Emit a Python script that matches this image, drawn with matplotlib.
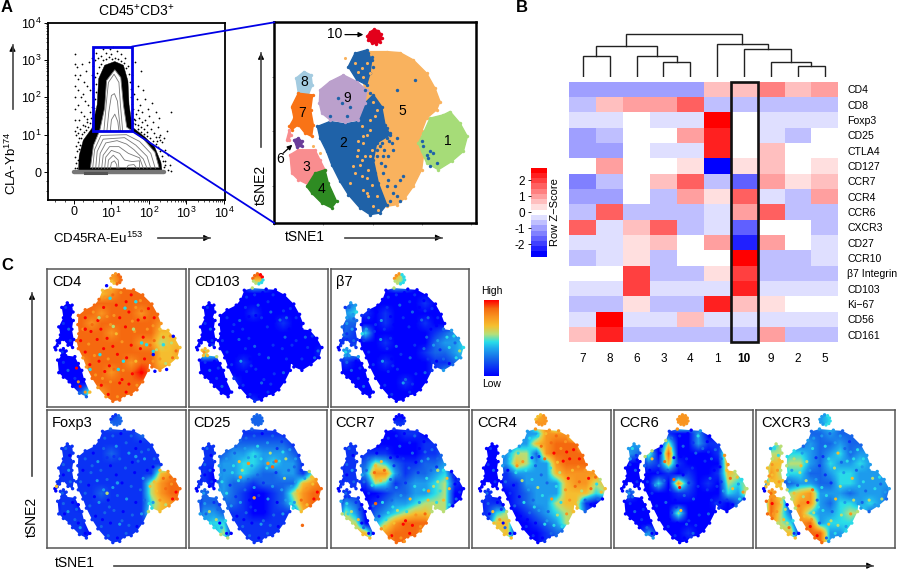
from __future__ import annotations

import matplotlib

matplotlib.use("Agg")
import matplotlib.pyplot as plt
import numpy as np
from matplotlib.colors import BoundaryNorm, LinearSegmentedColormap, ListedColormap
from matplotlib.patches import ConnectionPatch, Rectangle
from matplotlib.path import Path

plt.rcParams["font.family"] = ["Liberation Sans", "DejaVu Sans"]
plt.rcParams["mathtext.default"] = "regular"

W, H = 900, 570

# --- panel A, flow plot (biexponential decades, 0 = zero)
BLACK_X = [0.12, 0.14, 0.25, 0.48, 0.62, 0.66, 0.82, 1.09, 1.32, 1.44, 1.47, 1.56, 1.9, 2.15, 2.32, 2.36]
BLACK_Y = [-0.02, 0.44, 0.85, 1.17, 1.8, 2.5, 2.86, 2.96, 2.86, 2.44, 1.8, 1.2, 0.93, 0.68, 0.26, -0.04]
WHITE_X = [0.44, 0.52, 0.69, 0.82, 0.87, 1.09, 1.25, 1.32, 1.41, 1.85, 2.16, 2.27]
WHITE_Y = [0.12, 0.71, 1.12, 1.72, 2.45, 2.74, 2.53, 1.8, 1.2, 0.89, 0.53, 0.12]
CONTOURS = [
    [(0.8, 1.1), (0.86, 1.8), (0.92, 2.4), (1.07, 2.62), (1.2, 2.4), (1.24, 1.8), (1.3, 1.1)],
    [(0.88, 1.1), (0.93, 1.6), (1.0, 2.05), (1.08, 2.1), (1.16, 1.9), (1.2, 1.5), (1.24, 1.1)],
    [(0.97, 1.1), (1.0, 1.4), (1.09, 1.55), (1.17, 1.35), (1.2, 1.1)],
    [(0.5, 0.1), (0.55, 0.6), (0.72, 0.98), (1.4, 1.0), (1.75, 0.82), (2.05, 0.5), (2.17, 0.1)],
    [(0.58, 0.1), (0.62, 0.55), (0.78, 0.88), (1.35, 0.92), (1.65, 0.72), (1.95, 0.42), (2.05, 0.1)],
    [(0.66, 0.1), (0.7, 0.5), (0.85, 0.78), (1.15, 0.84), (1.4, 0.75), (1.6, 0.6), (1.85, 0.35), (1.95, 0.1)],
    [(0.74, 0.1), (0.78, 0.45), (0.95, 0.68), (1.2, 0.68), (1.45, 0.5), (1.75, 0.38), (1.85, 0.1)],
    [(0.82, 0.1), (0.85, 0.4), (1.0, 0.58), (1.22, 0.5), (1.35, 0.32), (1.55, 0.28), (1.75, 0.3), (1.75, 0.1)],
    [(0.9, 0.1), (0.92, 0.32), (1.05, 0.45), (1.18, 0.32), (1.2, 0.1)],
    [(0.97, 0.1), (1.0, 0.25), (1.08, 0.3), (1.14, 0.2), (1.15, 0.1)],
    [(1.4, 0.1), (1.45, 0.18), (1.6, 0.2), (1.68, 0.1)],
]
SPARSE_DOTS = [
    (0.02, 3.15), (0.03, 2.9), (0.02, 2.6), (0.03, 2.3), (0.02, 2.0), (0.03, 1.7), (0.02, 1.4), (0.03, 1.1),
    (0.08, 2.8), (0.12, 2.5), (0.1, 2.2), (0.17, 2.6), (0.22, 2.9), (0.27, 2.4), (0.18, 2.0), (0.11, 1.8),
    (0.25, 2.1), (0.33, 2.7), (0.36, 2.3), (0.3, 1.9), (0.2, 1.6), (0.13, 1.4), (0.28, 1.5), (0.38, 1.8),
    (0.42, 2.2), (0.47, 2.6), (0.44, 1.6), (0.5, 2.0), (0.52, 2.85), (0.48, 3.05), (0.4, 2.95), (0.34, 1.35),
    (0.08, 1.2), (0.16, 1.15), (0.24, 1.25), (0.55, 3.0), (0.65, 3.05), (0.72, 3.12), (0.85, 3.2), (0.95, 3.3),
    (1.05, 3.35), (1.15, 3.25), (1.25, 3.15), (1.35, 3.05), (1.45, 2.85), (0.78, 3.3), (1.0, 3.15), (0.6, 3.2),
    (1.56, 2.6), (1.62, 2.95), (1.7, 2.3), (1.78, 2.7), (1.85, 2.2), (1.6, 2.1), (1.68, 1.95), (1.76, 1.8),
    (1.9, 1.95), (1.98, 1.7), (2.08, 1.85), (2.2, 1.6), (2.28, 1.45), (1.58, 1.7), (1.66, 1.55), (1.74, 1.45),
    (1.82, 1.6), (1.9, 1.4), (2.0, 1.5), (2.12, 1.35), (2.24, 1.2), (1.72, 1.25), (1.8, 1.2), (1.88, 1.15),
    (1.96, 1.25), (2.05, 1.15), (2.14, 1.05), (2.3, 1.0), (2.36, 0.8), (2.44, 0.6), (2.5, 0.45), (2.55, 0.2),
    (2.42, 0.3), (2.3, 0.85), (2.48, 1.1), (2.6, 1.6), (1.58, 1.3), (1.62, 1.4), (1.7, 1.65), (1.82, 1.35),
    (2.5, 0.05), (2.58, 0.02), (0.06, 0.98), (0.1, 1.05), (1.95, 1.08), (2.18, 0.95), (2.26, 0.95), (2.4, 0.9),
    (0.03, 0.1), (0.06, 0.25), (0.04, 0.4), (0.09, 0.55), (0.05, 0.7), (0.11, 0.8), (0.08, 0.12), (0.1, 0.33),
    (0.13, 0.62), (0.16, 0.72), (0.19, 0.92), (0.14, 0.9), (0.22, 1.02), (0.28, 1.08), (0.33, 1.12), (0.38, 1.2),
    (0.42, 1.32), (0.46, 1.45), (0.5, 1.55), (0.53, 1.72), (0.56, 1.95), (0.58, 2.15), (0.6, 2.35), (0.52, 2.25),
    (0.56, 2.55), (0.62, 2.65), (0.66, 2.8), (0.72, 2.9), (0.78, 3.0), (0.86, 3.02), (0.94, 3.08), (1.02, 3.02),
    (1.1, 3.06), (1.18, 3.02), (1.26, 2.98), (1.34, 2.92), (1.4, 2.78), (1.46, 2.62), (1.5, 2.42), (1.52, 2.22),
    (1.53, 2.0), (1.55, 1.82), (1.54, 1.58), (1.6, 1.42), (1.64, 1.28), (1.7, 1.14), (1.78, 1.06), (1.86, 1.02),
    (1.94, 0.96), (2.02, 0.9), (2.1, 0.82), (2.18, 0.76), (2.24, 0.66), (2.3, 0.55), (2.34, 0.42), (2.38, 0.3),
    (2.4, 0.14), (2.44, 0.2), (2.22, 0.82), (1.58, 1.12), (1.66, 1.08), (0.3, 1.22), (0.36, 1.42), (0.48, 1.75),
]
GATE_X = [0.515, 1.547]
GATE_Y = [1.096, 3.36]
DECADE_TICKS = [0, 1, 2, 3, 4]
DECADE_LABELS = ["0", "$10^{1}$", "$10^{2}$", "$10^{3}$", "$10^{4}$"]

# --- panel A, tSNE map (arbitrary tSNE units)
CLUSTER_COLORS = {
    "5": "#f9b25e", "2": "#1f62a8", "9": "#bba0cc", "1": "#a6dc78", "8": "#a3cbe0",
    "7": "#f97316", "3": "#f98d8f", "4": "#2e8b22", "6": "#6a3d9a", "10": "#e3001b",
}
CLUSTER_5 = [(395, 170), (415, 125), (470, 125), (510, 128), (550, 150), (590, 190), (615, 235), (630, 275),
             (620, 300), (590, 325), (575, 365), (570, 400), (580, 440), (575, 480), (550, 530), (525, 565),
             (500, 585), (470, 590), (440, 520), (410, 420), (400, 300), (405, 250)]
CLUSTER_2 = [(262, 350), (300, 335), (345, 342), (385, 335), (405, 280), (430, 255), (455, 290), (465, 345),
             (480, 375), (440, 400), (430, 450), (445, 520), (470, 585), (450, 610), (420, 615), (390, 595),
             (355, 555), (330, 515), (305, 465), (290, 425), (270, 385)]
CLUSTER_2_TOP = [(375, 130), (410, 120), (425, 150), (420, 190), (410, 225), (380, 210), (355, 170)]
CLUSTER_9 = [(270, 240), (300, 215), (340, 195), (380, 215), (410, 240), (405, 280), (385, 330), (345, 338),
             (300, 330), (275, 310), (268, 280)]
CLUSTER_1 = [(600, 325), (640, 315), (660, 305), (690, 340), (712, 380), (700, 425), (665, 455), (625, 480),
             (590, 460), (575, 425), (565, 400), (580, 370)]
CLUSTER_8 = [(198, 205), (222, 185), (243, 195), (247, 225), (235, 255), (205, 250)]
CLUSTER_7 = [(205, 250), (248, 255), (242, 300), (250, 345), (245, 380), (225, 370), (205, 345), (185, 360),
             (178, 350), (192, 325), (185, 290)]
CLUSTER_TAIL = [(170, 390), (178, 360), (183, 375), (176, 392)]
CLUSTER_6 = [(192, 390), (205, 385), (217, 395), (215, 410), (200, 412)]
CLUSTER_3 = [(180, 435), (205, 420), (255, 420), (270, 450), (285, 480), (260, 495), (235, 525), (205, 510),
             (185, 490)]
CLUSTER_4 = [(255, 490), (285, 480), (295, 520), (320, 575), (305, 595), (275, 580), (245, 550), (230, 530)]
CLUSTER_10 = [(412, 78), (420, 66), (432, 58), (445, 62), (453, 72), (456, 85), (450, 96), (438, 102), (425, 99),
              (415, 90)]
BLUE_SPECKS = [(555, 210), (500, 240), (480, 370), (470, 385), (490, 420), (460, 440), (510, 510), (520, 500),
               (500, 560), (430, 350), (445, 330), (420, 400), (430, 380), (410, 430), (395, 420), (440, 420),
               (455, 400), (470, 355), (415, 300), (405, 330), (600, 425), (590, 435), (610, 430), (595, 445),
               (325, 265), (335, 280), (350, 320), (360, 290), (425, 470), (435, 490), (465, 470), (475, 510),
               (450, 410), (462, 420), (442, 440), (452, 460), (478, 395), (485, 400), (500, 385), (475, 440),
               (458, 490), (470, 530), (490, 550), (510, 575), (480, 575), (495, 530), (415, 130), (425, 140),
               (430, 170), (405, 240), (420, 250), (620, 460), (600, 470), (580, 410), (575, 395), (300, 320)]
ORANGE_SPECKS = [(390, 465), (370, 470), (395, 500), (410, 550), (440, 560), (380, 440), (400, 400), (385, 420),
                 (415, 480), (360, 520), (425, 525), (445, 600), (400, 380), (395, 350), (420, 330), (440, 300),
                 (450, 270), (420, 190), (395, 175), (375, 160), (345, 145), (405, 440), (375, 490), (410, 505),
                 (395, 450), (420, 440), (385, 395), (410, 375), (425, 420), (420, 360), (435, 320), (430, 275),
                 (415, 560), (430, 590), (400, 540), (410, 160), (400, 200), (385, 185), (270, 430), (250, 410)]
CLUSTER_LABELS = [("1", 652, 393), ("2", 340, 401), ("3", 228, 473), ("4", 274, 538), ("5", 518, 302),
                  ("7", 215, 310), ("8", 222, 217), ("9", 352, 264)]

# --- panel B, heatmap (colour levels -8..8, one level = 0.327 z)
HEAT_COLUMNS = ["7", "8", "6", "3", "4", "1", "10", "9", "2", "5"]
HEAT_ROWS = ["CD4", "CD8", "Foxp3", "CD25", "CTLA4", "CD127", "CCR7", "CCR4", "CCR6", "CXCR3", "CD27", "CCR10",
             "β7 Integrin", "CD103", "Ki−67", "CD56", "CD161"]
HEAT_LEVELS = [
    [-3, -3, -3, -3, -3, 2, 2, 4, 2, 3],
    [-2, 2, 3, 3, 5, -2, -2, -2, -2, -2],
    [-1, -1, 0, -1, -1, 8, 0, -1, -1, -1],
    [-3, -2, 0, 0, 3, 7, 0, -1, -2, 0],
    [-3, -3, 0, -1, -1, 7, 0, 2, 0, 0],
    [0, 3, 0, 0, 1, -8, 1, 2, 0, 1],
    [-4, -2, 0, 2, 5, -2, -5, 3, 1, 2],
    [-3, -3, 0, -2, 3, 1, 5, -1, -2, 3],
    [-2, 5, -2, -2, -2, -1, 3, 5, -2, -2],
    [5, -1, 2, 5, -2, -1, -5, 0, 0, -2],
    [-1, -1, 1, 2, 0, 3, -7, 3, 0, -1],
    [-2, -1, 1, -2, 0, 0, 8, -2, -2, -1],
    [0, 0, 6, -2, -2, 1, 6, -2, -2, -2],
    [-1, -1, 6, -1, -1, -1, 7, -1, -1, -1],
    [-2, -2, 1, -2, -2, 7, 2, 1, 0, 0],
    [-1, 8, -1, -1, 2, -1, -1, -1, -1, -1],
    [2, 7, -2, -2, -2, -2, -2, 3, -2, -2],
]
Z_STEP = 0.327
Z_TICKS = [2, 1, 0, -1, -2]
Z_LABELS = ["2", "1", "0", "-1", "-2"]
# (child, child, height); leaves are heatmap columns 0..9, new nodes count up from 10
DENDRO_MERGES = [(0, 1, 64), (3, 4, 46), (2, 11, 64), (10, 12, 94), (8, 9, 34), (7, 14, 46), (6, 15, 85),
                 (5, 16, 99), (13, 17, 131)]

# --- panel C, expression maps: digits 0 (low) .. 9 (high), 14x14 cells over the map
OUTLINE_MAIN = [(375, 130), (410, 120), (470, 125), (510, 128), (550, 150), (590, 190), (615, 235), (630, 275),
                (625, 300), (660, 305), (690, 340), (712, 380), (700, 425), (665, 455), (625, 480), (590, 465),
                (578, 445), (575, 480), (550, 530), (525, 565), (500, 585), (470, 590), (450, 610), (420, 615),
                (390, 595), (355, 555), (330, 515), (305, 465), (290, 425), (270, 385), (262, 350), (272, 320),
                (268, 280), (270, 240), (300, 215), (340, 195), (360, 170)]
OUTLINE_LEFT_UP = [(198, 205), (222, 185), (243, 195), (247, 225), (236, 255), (248, 262), (242, 300), (250, 345),
                   (245, 380), (225, 370), (205, 345), (188, 360), (178, 372), (172, 390), (168, 380), (178, 350),
                   (192, 325), (185, 290), (205, 250)]
OUTLINE_LEFT_LOW = [(192, 392), (205, 385), (217, 395), (215, 415), (255, 420), (270, 450), (285, 480), (295, 520),
                    (320, 575), (305, 595), (275, 580), (245, 550), (230, 530), (205, 510), (185, 490), (180, 435),
                    (198, 415)]
# cell-level grain: (x, y, digit offset from the local value)
GRAIN = [
    (300, 250, 1), (335, 225, -1), (380, 205, 1), (420, 150, 1), (455, 140, -1), (500, 150, 1), (540, 175, -1),
    (575, 210, 1), (600, 250, 1), (355, 262, 2), (395, 245, -1), (435, 195, 2), (478, 180, 1), (520, 205, -1),
    (558, 250, 2), (595, 285, -1), (290, 300, -1), (325, 310, 1), (368, 300, 1), (410, 280, -1), (450, 250, 1),
    (490, 225, 2), (530, 260, 1), (570, 300, -1), (280, 350, 1), (315, 365, -1), (352, 345, 2), (395, 340, 1),
    (435, 320, -1), (475, 290, 1), (515, 310, -1), (552, 335, 2), (300, 400, 1), (340, 415, -1), (380, 385, 1),
    (420, 375, 2), (460, 355, -1), (500, 370, 1), (540, 385, 1), (320, 455, 1), (360, 440, 2), (400, 430, -1),
    (440, 410, 1), (480, 425, 2), (520, 440, -1), (558, 430, 1), (345, 500, -1), (385, 485, 1), (425, 475, 1),
    (465, 480, -1), (505, 495, 1), (545, 490, 2), (370, 545, 1), (410, 530, -1), (450, 535, 2), (490, 540, 1),
    (525, 545, -1), (400, 585, 1), (440, 595, -1), (478, 575, 1), (600, 350, 1), (640, 335, 2), (675, 360, -1),
    (695, 395, 1), (610, 390, -1), (650, 380, 1), (680, 425, 2), (625, 430, 1), (595, 440, -1), (650, 450, -1),
    (215, 205, 1), (232, 235, -1), (205, 275, 1), (228, 300, 2), (205, 320, -1), (235, 350, 1), (200, 400, 1),
    (205, 445, 1), (245, 440, -1), (225, 480, 2), (262, 470, 1), (210, 490, -1), (255, 515, 1), (278, 550, 2),
    (300, 575, -1), (270, 530, -1), (330, 280, 1), (545, 220, 1), (405, 460, 1), (375, 515, -1), (505, 265, -1),
    (460, 520, 1), (425, 240, -1), (385, 160, 1), (582, 370, 1), (670, 330, 1),
]

CD4_MAIN = ["88888878888888", "88888868888888", "88888678888888", "88888888888888", "88888788878888",
            "88887888888777", "88888878888667", "78888888877566", "78888888888667", "88878888788666",
            "88888878898777", "78888888888888", "68888788888888", "88888888888888"]
CD4_LEFT = ["00000", "00000", "00000", "00000", "00000", "00000", "00000", "00000", "00000", "00026", "00016"]
CD103_MAIN = ["00000089000000", "00000054000000", "00000000000000", "00000000000000", "00000010000000",
              "00000000010000", "00000000000000", "00000000000000", "00000000000001", "00000100000000",
              "00000000000000", "00001000000000", "00000000000000", "00000010000000"]
CD103_LEFT = ["00000", "00000", "00000", "00000", "00000", "06500", "00000", "00000", "00000", "00000", "00000"]
B7_MAIN = ["00000074000000", "00000054000000", "00000000000000", "01000000010000", "00010100000000",
           "00000100010000", "00040000001230", "00000100002334", "00000000012234", "00100100001123",
           "00000000001322", "00000001000000", "00000000000000", "00001100100000"]
B7_LEFT = ["01300", "03400", "02200", "02100", "01100", "03300", "01000", "00000", "00000", "00000", "00000"]
FOXP3_MAIN = ["11111112111111", "11111122111111", "11111111121111", "11111111111111", "11111121111111",
              "11111111111111", "11111111111677", "11111111115788", "11111211115788", "11111111114678",
              "11111111115667", "11111111111111", "11111111111111", "11111111111111"]
FOXP3_LEFT = ["01100", "01100", "01100", "01100", "01100", "01100", "01100", "01110", "01110", "00110", "00110"]
CD25_MAIN = ["11111122111111", "11111122111111", "11111111111111", "11112222221111", "11123343332111",
             "11233443433111", "11233432233156", "11232212222678", "11232100125788", "11222100124788",
             "11111100111677", "11111111111111", "11111111111111", "11111111111111"]
CD25_LEFT = ["01100", "01100", "01100", "01000", "01000", "02200", "02210", "03320", "03440", "01350", "00230"]
CCR7_MAIN = ["00000000000000", "00000011000000", "00000001100000", "00000000011100", "00011100011200",
             "00125421122300", "00137731223400", "00115412334510", "00000122334500", "00001233455500",
             "00002345665500", "00003578886500", "00005788877500", "00005788866500"]
CCR7_LEFT = ["01100", "01100", "01100", "01100", "01100", "01100", "03200", "05300", "06500", "02760", "00370"]
CCR4_MAIN = ["11111167111111", "11111177111111", "11111337771111", "11123367888111", "11135527888811",
             "11236533788820", "11113333677776", "11011333367756", "11001233366645", "00001233566100",
             "00000123456200", "00000012355700", "00000001224400", "00000001111100"]
CCR4_LEFT = ["00000", "00000", "00000", "00000", "00000", "01000", "01100", "01450", "01660", "01560", "00450"]
CCR6_MAIN = ["00000077000000", "00000077000000", "00000100300000", "00000500311110", "00050800001700",
             "00021610000760", "00000101001650", "00004072010545", "00000011000436", "00000000001021",
             "00000050000000", "00000000000000", "00000001000000", "00000000000000"]
CCR6_LEFT = ["03300", "03200", "00000", "00000", "00000", "02000", "00000", "00000", "00000", "00030", "00020"]
CXCR3_MAIN = ["22222234222222", "22222234222222", "22222223222222", "22222322322222", "22344323423322",
              "22455324334322", "22344223443333", "22223322443333", "22356733323332", "22357732443432",
              "22467433455222", "22267834443222", "22226883343222", "22222883222222"]
CXCR3_LEFT = ["03500", "05500", "06600", "07500", "06600", "07500", "08600", "08520", "07540", "03660", "00540"]

CD4_SPOTS = [(408, 165, 4), (473, 208, 4), (422, 288, 5), (466, 440, 4), (444, 476, 4), (364, 411, 4), (321, 476, 4),
             (567, 368, 4), (596, 397, 4), (640, 368, 4), (596, 411, 0), (683, 331, 0), (545, 360, 4), (654, 476, 0),
             (603, 484, 0), (393, 110, 0), (510, 300, 5), (360, 250, 5), (300, 300, 9), (520, 180, 4)]
CD25_SPOTS = [(395, 270, 7), (480, 270, 7), (360, 330, 7), (420, 420, 7), (500, 285, 8), (515, 260, 8), (630, 540, 8)]
FOXP3_SPOTS = [(440, 355, 3), (520, 240, 3), (395, 400, 5), (175, 370, 6)]
CCR7_SPOTS = [(330, 445, 8), (560, 390, 7), (600, 300, 5), (455, 610, 7), (390, 590, 8)]

PANELS_TOP = [("CD4", CD4_MAIN, CD4_LEFT, CD4_SPOTS), ("CD103", CD103_MAIN, CD103_LEFT, []),
              ("β7", B7_MAIN, B7_LEFT, [])]
PANELS_BOTTOM = [("Foxp3", FOXP3_MAIN, FOXP3_LEFT, FOXP3_SPOTS), ("CD25", CD25_MAIN, CD25_LEFT, CD25_SPOTS),
                 ("CCR7", CCR7_MAIN, CCR7_LEFT, CCR7_SPOTS), ("CCR4", CCR4_MAIN, CCR4_LEFT, []),
                 ("CCR6", CCR6_MAIN, CCR6_LEFT, []), ("CXCR3", CXCR3_MAIN, CXCR3_LEFT, [])]
PANEL_X_TOP = [(47.3, 185.7), (189, 327.7), (330.7, 469.3)]
PANEL_X_BOTTOM = [(47.3, 185.7), (188.7, 327), (330.7, 469.3), (472, 611), (614, 752.7), (756, 895)]

EXPR_CMAP = LinearSegmentedColormap.from_list(
    "expr",
    [(0.0, "#0000ff"), (0.22, "#1565ea"), (0.36, "#1fa8ee"), (0.45, "#2adfe8"), (0.55, "#b5e07a"),
     (0.66, "#f5c030"), (0.78, "#f99520"), (0.89, "#f56a10"), (1.0, "#ff0000")],
)
XLIM = (135, 737)
YLIM = (640, 37)


def px_axes(fig, x0, y0, x1, y1):
    return fig.add_axes([x0 / W, 1 - y1 / H, (x1 - x0) / W, (y1 - y0) / H])


def px(x, y):
    return x / W, 1 - y / H


def fig_arrow(fig, x0, y0, x1, y1, color="#444444", lw=1.2):
    fig.add_artist(plt.Line2D([x0 / W, x1 / W], [1 - y0 / H, 1 - y1 / H], color=color, lw=lw))
    plt.annotate(
        "", xy=px(x1, y1), xytext=px(x1 - (x1 > x0) * 6 + (x1 < x0) * 6, y1 + (y1 < y0) * 6 - (y1 > y0) * 6),
        xycoords="figure fraction", textcoords="figure fraction",
        arrowprops=dict(arrowstyle="-|>", color="black", lw=0.8, mutation_scale=9, shrinkA=0, shrinkB=0),
    )


def poly(ax, pts, color, zorder=2):
    xs, ys = zip(*pts)
    ax.fill(xs, ys, color=color, lw=1.0, zorder=zorder)
    ax.scatter(xs, ys, s=6, color=color, lw=0, zorder=zorder)


def draw_flow(fig):
    ax = px_axes(fig, 47.7, 22.7, 225, 200)
    ax.set_xlim(-0.7, 4.03)
    ax.set_ylim(-0.75, 4.0)
    dx, dy = zip(*SPARSE_DOTS)
    ax.scatter(dx, dy, s=1.6, color="black", lw=0, zorder=1)
    ax.fill(BLACK_X, BLACK_Y, color="black", lw=0.3, zorder=2)
    ax.fill(WHITE_X, WHITE_Y, color="white", ec="#777777", lw=0.6, zorder=3)
    for c in CONTOURS:
        xs, ys = zip(*c)
        ax.plot(xs, ys, color="#777777", lw=0.6, zorder=4)
    ax.plot([0.0, 2.4], [0.0, 0.0], color="#777777", lw=3.2, zorder=5, solid_capstyle="round")
    ax.plot([0.3, 0.85], [-0.02, -0.02], color="#555555", lw=2.2, zorder=5)
    ax.add_patch(Rectangle((GATE_X[0], GATE_Y[0]), GATE_X[1] - GATE_X[0], GATE_Y[1] - GATE_Y[0],
                           fill=False, ec="#0000e6", lw=2.0, zorder=6))
    minors = [-0.5, -0.25, 0.25, 0.5, 0.75] + [d + np.log10(m) for d in range(1, 4) for m in range(2, 10)]
    ax.set_xticks(DECADE_TICKS, DECADE_LABELS, fontsize=9)
    ax.set_yticks(DECADE_TICKS, DECADE_LABELS, fontsize=9)
    ax.set_xticks(minors, minor=True)
    ax.set_yticks(minors, minor=True)
    ax.tick_params(length=3, width=0.7, pad=1.5)
    ax.tick_params(which="minor", length=1.5, width=0.5)
    for s in ax.spines.values():
        s.set_linewidth(1.3)
    return ax


def draw_tsne(fig):
    ax = px_axes(fig, 274.3, 22.3, 475.7, 223)
    ax.set_xlim(133, 737)
    ax.set_ylim(640, 37)
    c = CLUSTER_COLORS
    for pts, col in [(CLUSTER_5, c["5"]), (CLUSTER_2, c["2"]), (CLUSTER_2_TOP, c["2"]), (CLUSTER_9, c["9"]),
                     (CLUSTER_1, c["1"]), (CLUSTER_8, c["8"]), (CLUSTER_7, c["7"]), (CLUSTER_TAIL, c["3"]),
                     (CLUSTER_3, c["3"]), (CLUSTER_4, c["4"]), (CLUSTER_6, c["6"]), (CLUSTER_10, c["10"])]:
        poly(ax, pts, col)
    bx, by = zip(*BLUE_SPECKS)
    ax.scatter(bx, by, s=6, color=c["2"], lw=0, zorder=3)
    ox, oy = zip(*ORANGE_SPECKS)
    ax.scatter(ox, oy, s=5, color=c["5"], lw=0, zorder=3)
    for name, x, y in CLUSTER_LABELS:
        ax.text(x, y, name, fontsize=10, ha="center", va="center", zorder=5)
    ax.text(315, 72, "10", fontsize=10, ha="center", va="center")
    ax.annotate("", xy=(400, 74), xytext=(345, 74),
                arrowprops=dict(arrowstyle="-|>", color="black", lw=0.9, mutation_scale=7, shrinkA=0, shrinkB=0))
    ax.text(150, 447, "6", fontsize=10, ha="center", va="center")
    ax.annotate("", xy=(187, 405), xytext=(160, 430),
                arrowprops=dict(arrowstyle="-|>", color="black", lw=0.9, mutation_scale=7, shrinkA=0, shrinkB=0))
    ax.set_xticks([133, 280, 428, 576, 724], [])
    ax.set_yticks([200, 365, 530], [])
    ax.tick_params(length=1.5, width=0.5, color="#666666")
    for s in ax.spines.values():
        s.set_linewidth(1.8)
    return ax


def draw_heatmap(fig):
    ax = px_axes(fig, 569.3, 81.7, 838.3, 342.3)
    colors = []
    for lev in range(-8, 9):
        v = 1 - abs(lev) / 8
        colors.append((v, v, 1.0) if lev < 0 else (1.0, v, v))
    cmap = ListedColormap(colors)
    norm = BoundaryNorm(np.arange(-8.5, 9.5), cmap.N)
    levels = np.array(HEAT_LEVELS)
    ax.pcolormesh(np.arange(11), np.arange(18), levels, cmap=cmap, norm=norm)
    ax.set_xlim(0, 10)
    ax.set_ylim(17, 0)
    ax.set_xticks(np.arange(10) + 0.5, HEAT_COLUMNS, fontsize=8.5)
    ax.get_xticklabels()[6].set_fontweight("bold")
    ax.yaxis.tick_right()
    ax.set_yticks(np.arange(17) + 0.5, HEAT_ROWS, fontsize=7.6)
    ax.tick_params(length=0, pad=6.5)
    ax.tick_params(axis="x", pad=8)
    for s in ax.spines.values():
        s.set_visible(False)
    ax.add_patch(Rectangle((6, 0), 1, 17, fill=False, ec="#111111", lw=1.9, clip_on=False, zorder=5))

    dax = px_axes(fig, 569.3, 33.3, 838.3, 77.3)
    node_x = {i: i + 0.5 for i in range(10)}
    node_h = {i: 0 for i in range(10)}
    for k, (a, b, h) in enumerate(DENDRO_MERGES):
        dax.plot([node_x[a], node_x[a], node_x[b], node_x[b]], [node_h[a], h, h, node_h[b]],
                 color="#222222", lw=1.0, solid_joinstyle="miter")
        node_x[10 + k] = (node_x[a] + node_x[b]) / 2
        node_h[10 + k] = h
    dax.set_xlim(0, 10)
    dax.set_ylim(0, 132)
    dax.axis("off")

    cax = px_axes(fig, 530.7, 167.7, 547.3, 256.7)
    edges = (np.arange(-8.5, 9.5)) * Z_STEP
    cax.pcolormesh([0, 1], edges, np.arange(-8, 9).reshape(-1, 1), cmap=cmap, norm=norm)
    cax.set_xticks([])
    cax.set_yticks(Z_TICKS, Z_LABELS, fontsize=8.5)
    cax.tick_params(length=2, width=0.6, pad=2)
    for s in cax.spines.values():
        s.set_visible(False)
    fig.text(555 / W, 1 - 212 / H, "Row Z−Score", rotation=90, fontsize=8, ha="center", va="center")


def digits(rows):
    return np.array([[int(ch) for ch in row] for row in rows], dtype=float)


def closed(pts):
    return Path(list(pts) + [pts[0]], closed=True)


def draw_marker(fig, box, label, main_rows, left_rows, spots):
    ax = px_axes(fig, *box)
    ax.set_xlim(*XLIM)
    ax.set_ylim(*YLIM)
    cell = (XLIM[1] - XLIM[0]) / 14
    cell_y = (YLIM[0] - YLIM[1]) / 14
    main = digits(main_rows)
    left = digits(left_rows)
    kw = dict(cmap=EXPR_CMAP, vmin=0, vmax=9, aspect="auto", interpolation="bilinear", origin="upper")
    main_path = Path.make_compound_path(closed(OUTLINE_MAIN), closed(CLUSTER_10))
    im = ax.imshow(main, extent=(XLIM[0], XLIM[1], YLIM[0], YLIM[1]), **kw)
    im.set_clip_path(main_path, ax.transData)
    left_top = YLIM[1] + 3 * cell_y
    left_path = Path.make_compound_path(closed(OUTLINE_LEFT_UP), closed(OUTLINE_LEFT_LOW))
    im2 = ax.imshow(left, extent=(XLIM[0], XLIM[0] + 5 * cell, YLIM[0], left_top), **kw)
    im2.set_clip_path(left_path, ax.transData)
    ax.set_xlim(*XLIM)
    ax.set_ylim(*YLIM)

    def lookup(xs, ys, grid, y0):
        cols = ((xs - XLIM[0]) / cell).astype(int).clip(0, grid.shape[1] - 1)
        rws = ((ys - y0) / cell_y).astype(int).clip(0, grid.shape[0] - 1)
        return grid[rws, cols]

    # bumpy edge: outline vertices coloured from the same grids
    for pts, grid, y0 in [(OUTLINE_MAIN, main, YLIM[1]), (CLUSTER_10, main, YLIM[1]),
                          (OUTLINE_LEFT_UP, left, left_top), (OUTLINE_LEFT_LOW, left, left_top)]:
        xs, ys = np.array(pts, dtype=float).T
        ax.scatter(xs, ys, c=lookup(xs, ys, grid, y0), cmap=EXPR_CMAP, vmin=0, vmax=9, s=6, lw=0, zorder=3)
    gx, gy, gd = np.array(GRAIN, dtype=float).T
    is_left = gx < 262
    gv = np.where(is_left, lookup(gx, gy, left, left_top), lookup(gx, gy, main, YLIM[1])) + gd
    ax.scatter(gx, gy, c=gv.clip(0, 9), cmap=EXPR_CMAP, vmin=0, vmax=9, s=5, lw=0, zorder=3)
    if spots:
        sx, sy, sv = zip(*spots)
        ax.scatter(sx, sy, c=sv, cmap=EXPR_CMAP, vmin=0, vmax=9, s=6, lw=0, zorder=4)
    ax.text(0.035, 0.955, label, transform=ax.transAxes, fontsize=10.5, ha="left", va="top", zorder=6)
    ax.set_xticks([])
    ax.set_yticks([])
    for s in ax.spines.values():
        s.set_linewidth(1.1)
        s.set_color("#555555")


def main() -> None:
    fig = plt.figure(figsize=(W / 100, H / 100), dpi=100)

    flow = draw_flow(fig)
    tsne = draw_tsne(fig)
    for xa, ya, xb, yb in [(GATE_X[1], GATE_Y[1], 133, 37), (GATE_X[1], GATE_Y[0], 133, 640)]:
        fig.add_artist(ConnectionPatch((xa, ya), (xb, yb), coordsA=flow.transData, coordsB=tsne.transData,
                                       color="#0000e6", lw=1.3))

    draw_heatmap(fig)

    for (label, m, l, s), (x0, x1) in zip(PANELS_TOP, PANEL_X_TOP):
        draw_marker(fig, (x0, 269, x1, 407), label, m, l, s)
    for (label, m, l, s), (x0, x1) in zip(PANELS_BOTTOM, PANEL_X_BOTTOM):
        draw_marker(fig, (x0, 410, x1, 548.3), label, m, l, s)

    cb = px_axes(fig, 484.3, 300, 499.3, 375.7)
    cb.imshow(np.linspace(1, 0, 200).reshape(-1, 1), cmap=EXPR_CMAP, aspect="auto")
    cb.axis("off")
    fig.text(491.8 / W, 1 - 291 / H, "High", fontsize=7.5, ha="center", va="center")
    fig.text(491.8 / W, 1 - 384 / H, "Low", fontsize=7.5, ha="center", va="center")

    for text, x, y, kw in [
        ("A", 1, 8, dict(fontsize=12, fontweight="bold", ha="left")),
        ("B", 516, 7, dict(fontsize=12, fontweight="bold", ha="left")),
        ("C", 1, 265, dict(fontsize=12, fontweight="bold", ha="left")),
        ("CD45$^{+}$CD3$^{+}$", 136, 11, dict(fontsize=10, ha="center")),
        ("CLA-Yb$^{174}$", 11, 163, dict(fontsize=9.5, rotation=90, ha="center")),
        ("CD45RA-Eu$^{153}$", 98, 238, dict(fontsize=9.5, ha="center")),
        ("tSNE1", 305, 237, dict(fontsize=10, ha="center")),
        ("tSNE2", 261, 185, dict(fontsize=10, rotation=90, ha="center")),
        ("tSNE2", 32, 517, dict(fontsize=10, rotation=90, ha="center")),
        ("tSNE1", 75, 563, dict(fontsize=10, ha="center")),
    ]:
        fig.text(x / W, 1 - y / H, text, va="center", **kw)

    fig_arrow(fig, 12.5, 109, 12.5, 45)
    fig_arrow(fig, 158, 238, 210, 238)
    fig_arrow(fig, 345, 237.7, 441.7, 237.7)
    fig_arrow(fig, 261, 146.7, 261, 53)
    fig_arrow(fig, 32, 476, 32, 293)
    fig_arrow(fig, 114, 565.7, 873, 565.7)

    fig.savefig("out.png", dpi=100)
    plt.close(fig)


if __name__ == "__main__":
    main()
